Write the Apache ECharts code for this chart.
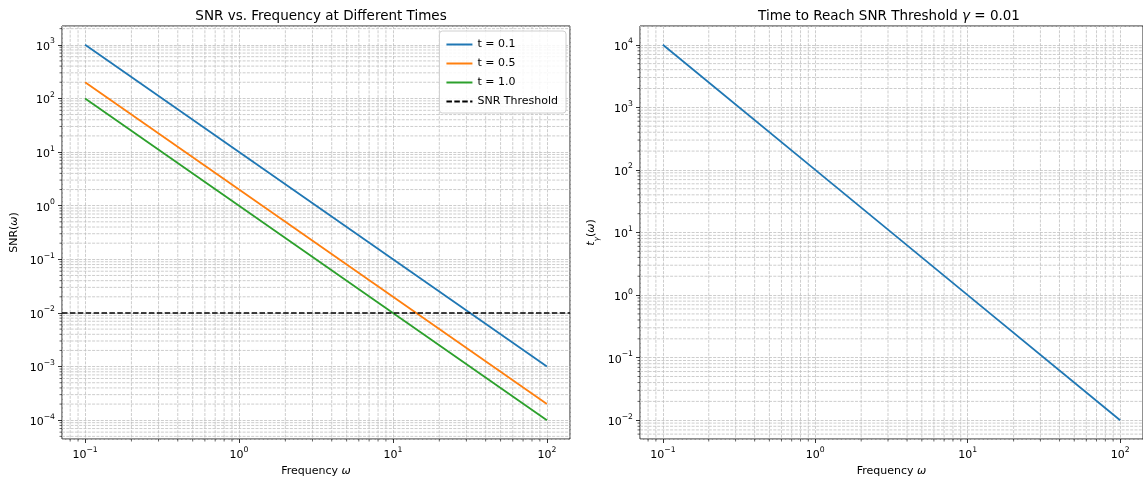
<!DOCTYPE html>
<html>
<head>
<meta charset="utf-8">
<script src="https://cdn.jsdelivr.net/npm/echarts@6/dist/echarts.min.js"></script>
<style>
html,body{margin:0;padding:0;background:#fff;}
#c{width:1143px;height:483px;}
</style>
</head>
<body>
<div id="c"></div>
<script>
// ---- data ----
const omega    = [0.1, 1, 10, 100];
const snrT01   = [1000, 10, 0.1, 0.001];
const snrT05   = [200, 2, 0.02, 0.0002];
const snrT10   = [100, 1, 0.01, 0.0001];
const tGamma   = [10000, 100, 1, 0.01];
const threshold = 0.01;
const seriesNames = ['t = 0.1', 't = 0.5', 't = 1.0', 'SNR Threshold'];
const colors = ['#1f77b4', '#ff7f0e', '#2ca02c', '#000000'];

// axis extents (decades with 5% margins)
const xMin = Math.pow(10, -1.15), xMax = Math.pow(10, 2.15);
const yLMin = Math.pow(10, -4.35), yLMax = Math.pow(10, 3.35);
const yRMin = Math.pow(10, -2.3), yRMax = Math.pow(10, 4.3);

const FONT = 'DejaVu Sans';
const TICK_FS = 11, NAME_FS = 11, TITLE_FS = 13.5;
function pts(xs, ys) { return xs.map((x, i) => [x, ys[i]]); }
function powLabel(v) {
  const e = Math.round(Math.log10(v));
  return '{b|10}{s|' + (e < 0 ? '\u2212' + (-e) : String(e)) + '}';
}
const powRich = {
  b: {fontSize: TICK_FS, fontFamily: FONT, color: '#000', lineHeight: 15, verticalAlign: 'bottom'},
  s: {fontSize: 7.7, fontFamily: FONT, color: '#000', lineHeight: 9, verticalAlign: 'top'}
};
function minorValues(lo, hi) {
  const out = [];
  for (let e = Math.floor(Math.log10(lo)); e <= Math.ceil(Math.log10(hi)); e++) {
    for (let m = 2; m <= 9; m++) {
      const v = m * Math.pow(10, e);
      if (v > lo && v < hi) out.push(v);
    }
  }
  return out;
}
const GRID_COLOR = '#c0c0c0';
const gridLine = {color: GRID_COLOR, width: 0.8, type: [3, 1.3]};

function axisX(idx) {
  return {
    type: 'log', logBase: 10, gridIndex: idx, min: xMin, max: xMax,
    name: '{n|Frequency }{i|\u03c9}', nameLocation: 'middle', nameGap: 26,
    nameTextStyle: {rich: {n: {fontSize: NAME_FS, fontFamily: FONT, color: '#000'}, i: {fontSize: NAME_FS, fontFamily: FONT, fontStyle: 'italic', color: '#000'}}},
    axisLine: {show: false},
    axisTick: {show: true, length: 4, inside: false, lineStyle: {color: '#000', width: 0.8}},
    axisLabel: {margin: 7, formatter: powLabel, rich: powRich, showMinLabel: false, showMaxLabel: false},
    splitLine: {show: true, lineStyle: gridLine},
    minorTick: {show: false}
  };
}
function axisY(idx, mn, mx, nameRich, gap) {
  return {
    type: 'log', logBase: 10, gridIndex: idx, min: mn, max: mx,
    name: nameRich.text, nameLocation: 'middle', nameGap: gap, nameRotate: 90,
    nameTextStyle: {rich: nameRich.rich},
    axisLine: {show: false},
    axisTick: {show: true, length: 4, inside: false, lineStyle: {color: '#000', width: 0.8}},
    axisLabel: {margin: 7, formatter: powLabel, rich: powRich, showMinLabel: false, showMaxLabel: false},
    splitLine: {show: true, lineStyle: gridLine}
  };
}

function minorSeries(gi, xs, isX) {
  return {
    type: 'custom', xAxisIndex: gi, yAxisIndex: gi, silent: true, z: 1,
    data: isX ? xs.map(v => [v, 1]) : xs.map(v => [1, v]),
    renderItem: function (params, api) {
      const cs = params.coordSys;
      const p = api.coord([api.value(0), api.value(1)]);
      if (isX) {
        const px = p[0], b = cs.y + cs.height;
        return {type: 'group', children: [
          {type: 'line', shape: {x1: px, y1: cs.y, x2: px, y2: b}, style: {stroke: GRID_COLOR, lineWidth: 0.8, lineDash: [3, 1.3]}},
          {type: 'line', shape: {x1: px, y1: b, x2: px, y2: b + 2.5}, style: {stroke: '#000', lineWidth: 0.6}}
        ]};
      } else {
        const py = p[1], l = cs.x;
        return {type: 'group', children: [
          {type: 'line', shape: {x1: l, y1: py, x2: l + cs.width, y2: py}, style: {stroke: GRID_COLOR, lineWidth: 0.8, lineDash: [3, 1.3]}},
          {type: 'line', shape: {x1: l - 2.5, y1: py, x2: l, y2: py}, style: {stroke: '#000', lineWidth: 0.6}}
        ]};
      }
    }
  };
}

function lineSeries(name, data, color, gi) {
  return {
    name: name, type: 'line', xAxisIndex: gi, yAxisIndex: gi, data: data,
    symbol: 'none', z: 3, animation: false,
    lineStyle: {color: color, width: 1.8}, itemStyle: {color: color}
  };
}

const xMinor = minorValues(xMin, xMax);
const yLMinor = minorValues(yLMin, yLMax);
const yRMinor = minorValues(yRMin, yRMax);

const chart = echarts.init(document.getElementById('c'), null, {renderer: 'canvas'});
chart.setOption({
  animation: false,
  backgroundColor: '#fff',
  textStyle: {fontFamily: FONT},
  title: [
    {text: 'SNR vs. Frequency at Different Times', left: 316, top: 4, textAlign: 'center',
     textStyle: {fontSize: TITLE_FS, fontWeight: 'normal', fontFamily: FONT, color: '#000'}},
    {text: '{n|Time to Reach SNR Threshold }{i|\u03b3}{n| = 0.01}', left: 884, top: 4, textAlign: 'center',
     textStyle: {fontSize: TITLE_FS, fontWeight: 'normal', fontFamily: FONT, color: '#000',
       rich: {n: {fontSize: TITLE_FS, fontFamily: FONT, color: '#000'}, i: {fontSize: TITLE_FS, fontFamily: FONT, fontStyle: 'italic', color: '#000'}}}}
  ],
  grid: [
    {left: 62, top: 26, width: 508, height: 413, show: true, borderColor: '#222', borderWidth: 1, backgroundColor: 'transparent', containLabel: false},
    {left: 640, top: 26, width: 509, height: 413, show: true, borderColor: '#222', borderWidth: 1, backgroundColor: 'transparent', containLabel: false}
  ],
  legend: {
    data: seriesNames, orient: 'vertical', right: 577, top: 31,
    itemWidth: 26, itemHeight: 10, itemGap: 8,
    padding: [8, 8, 6, 6],
    itemStyle: {opacity: 0},
    backgroundColor: 'rgba(255,255,255,0.85)', borderColor: '#d0d0d0', borderWidth: 1, borderRadius: 3,
    textStyle: {fontSize: 11, fontFamily: FONT, color: '#000'}
  },
  xAxis: [axisX(0), axisX(1)],
  yAxis: [
    axisY(0, yLMin, yLMax, {text: '{n|SNR(}{i|\u03c9}{n|)}', rich: {n: {fontSize: NAME_FS, fontFamily: FONT, color: '#000'}, i: {fontSize: NAME_FS, fontFamily: FONT, fontStyle: 'italic', color: '#000'}}}, 42),
    axisY(1, yRMin, yRMax, {text: '{i|t}{sub|\u03b3}{n|(}{i|\u03c9}{n|)}', rich: {
      n: {fontSize: NAME_FS, fontFamily: FONT, color: '#000', lineHeight: 15, verticalAlign: 'top'},
      i: {fontSize: NAME_FS, fontFamily: FONT, fontStyle: 'italic', color: '#000', lineHeight: 15, verticalAlign: 'top'},
      sub: {fontSize: 7.7, fontFamily: FONT, fontStyle: 'italic', color: '#000', lineHeight: 9, verticalAlign: 'bottom'}}}, 39)
  ],
  series: [
    minorSeries(0, xMinor, true),
    minorSeries(0, yLMinor, false),
    minorSeries(1, xMinor, true),
    minorSeries(1, yRMinor, false),
    lineSeries(seriesNames[0], pts(omega, snrT01), colors[0], 0),
    lineSeries(seriesNames[1], pts(omega, snrT05), colors[1], 0),
    lineSeries(seriesNames[2], pts(omega, snrT10), colors[2], 0),
    {
      name: seriesNames[3], type: 'line', xAxisIndex: 0, yAxisIndex: 0, data: [],
      symbol: 'none', z: 4,
      lineStyle: {color: '#000', width: 1.5, type: [5.5, 2.4]}, itemStyle: {color: '#000'},
      markLine: {silent: true, symbol: 'none', label: {show: false},
        lineStyle: {color: '#000', width: 1.5, type: [5.5, 2.4]},
        data: [{yAxis: threshold}]}
    },
    lineSeries('t_gamma', pts(omega, tGamma), colors[0], 1)
  ]
});
</script>
</body>
</html>
